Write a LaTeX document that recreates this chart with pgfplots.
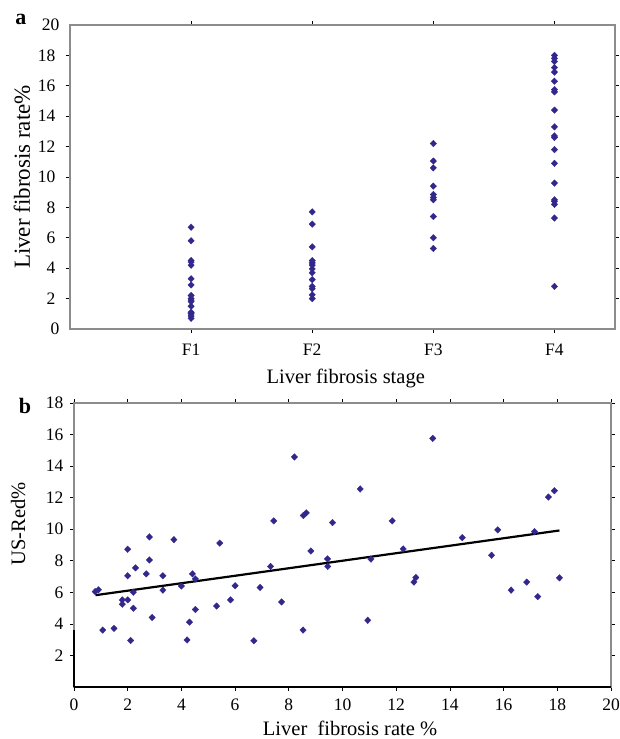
\documentclass[border=0pt]{standalone}
\usepackage{fontspec}
\setmainfont{Liberation Serif}
\usepackage{pgfplots}
\pgfplotsset{compat=1.18}
\definecolor{pt}{RGB}{50,40,140}
\definecolor{ax}{RGB}{140,140,140}
\pgfplotsset{
  common/.style={
    scale only axis,
    anchor=south west,
    tick align=outside,
    major tick length=4pt,
    tick style={black, line width=0.7pt},
    axis line style={ax, line width=1.3pt},
    /pgf/number format/assume math mode=true,
    tick label style={font=\fontsize{17.5}{20}\selectfont},
    label style={font=\fontsize{20.5}{24}\selectfont},
    clip=false,
  },
  dots/.style={only marks, mark=diamond*, mark size=3.3pt,
    mark options={xscale=1.3, draw=pt, fill=pt, line width=0.3pt}},
}
\begin{document}
\begin{tikzpicture}[x=1pt,y=1pt]
\useasboundingbox (0,0) rectangle (620,739);
% panel a
\begin{axis}[common,
  at={(70pt,410pt)}, width=545pt, height=304pt,
  xmin=0, xmax=4.5, ymin=0, ymax=20,
  xtick={1,2,3,4}, xticklabels={F1,F2,F3,F4},
  ytick={2,4,...,18},
  extra y ticks={0,20}, extra y tick style={major tick length=0pt},
  yticklabel style={xshift=-7pt},
  xticklabel style={yshift=-7pt},
  xlabel={Liver fibrosis stage},
  ylabel={Liver fibrosis rate\%},
  xlabel style={at={(axis description cs:0.506,-0.162)}, anchor=center},
  ylabel style={at={(axis description cs:-0.088,0.5)}, anchor=center, font=\fontsize{23}{26}\selectfont},
]
\addplot[dots] coordinates {
 (1,6.7) (1,5.8) (1,4.5) (1,4.4) (1,4.2) (1,3.3) (1,2.9) (1,2.2) (1,2.0) (1,1.9) (1,1.8) (1,1.5) (1,1.1) (1,1.0) (1,0.85) (1,0.7)
 (2,7.7) (2,6.9) (2,5.4) (2,4.5) (2,4.35) (2,4.2) (2,3.95) (2,3.7) (2,3.25) (2,2.8) (2,2.65) (2,2.25) (2,2.0)
 (3,12.2) (3,11.05) (3,10.6) (3,9.4) (3,8.85) (3,8.65) (3,8.5) (3,7.4) (3,6.0) (3,5.3)
 (4,18.0) (4,17.8) (4,17.6) (4,17.2) (4,16.9) (4,16.3) (4,15.75) (4,15.6) (4,14.4) (4,13.3) (4,12.7) (4,12.6) (4,11.8) (4,10.9) (4,9.6) (4,8.5) (4,8.4) (4,8.2) (4,7.3) (4,2.8)
};
\end{axis}
\node[font=\bfseries\fontsize{22}{24}\selectfont] at (21,720) {a};
% panel b
\begin{axis}[common,
  at={(74pt,52pt)}, width=537pt, height=284pt,
  xmin=0, xmax=20, ymin=0, ymax=18,
  xtick={0,2,...,20},
  ytick={2,4,...,18},
  yticklabel style={xshift=-3pt},
  xticklabel style={yshift=-4pt},
  xlabel={Liver\ \ fibrosis rate \%},
  ylabel={US-Red\%},
  xlabel style={at={(axis description cs:0.514,-0.146)}, anchor=center},
  ylabel style={at={(axis description cs:-0.104,0.574)}, anchor=center},
]
\addplot[dots] coordinates {
(0.79,6.05) (0.91,6.16) (1.07,3.61) (1.49,3.72) (1.80,5.25) (1.80,5.52) (2.00,5.52) (2.00,7.05) (2.00,8.73) (2.11,2.95)
(2.21,4.99) (2.21,6.01) (2.29,7.55) (2.69,7.17) (2.81,9.51) (2.81,8.05) (2.91,4.41) (3.31,7.05) (3.31,6.14) (3.72,9.34)
(4.00,6.40) (4.21,2.98) (4.30,4.11) (4.41,7.17) (4.52,6.85) (4.52,4.91) (5.31,5.13) (5.43,9.12) (5.83,5.52) (6.00,6.42)
(6.70,2.93) (6.93,6.31) (7.32,7.64) (7.44,10.53) (7.73,5.39) (8.21,14.58) (8.53,3.61) (8.54,10.87) (8.65,11.04) (8.82,8.62)
(9.44,8.12) (9.45,7.64) (9.63,10.42) (10.66,12.55) (10.94,4.23) (11.06,8.11) (11.85,10.53) (12.26,8.75) (12.66,6.65) (12.73,6.94)
(13.36,15.76) (14.46,9.47) (15.55,8.35) (15.78,9.96) (16.28,6.14) (16.86,6.65) (17.15,9.85) (17.27,5.73) (17.67,12.04) (17.89,12.44)
(18.08,6.92)
};
\addplot[black, line width=2.2pt] coordinates {(0.8,5.82) (6,7.05) (12,8.48) (18.08,9.92)};
\draw[black, line width=1.3pt] (rel axis cs:0,0) -- (rel axis cs:1,0);
\draw[black, line width=1.3pt] (axis cs:0,0) -- (axis cs:0,3.6);
\end{axis}
\node[font=\bfseries\fontsize{22}{24}\selectfont] at (25,333) {b};
\end{tikzpicture}
\end{document}
